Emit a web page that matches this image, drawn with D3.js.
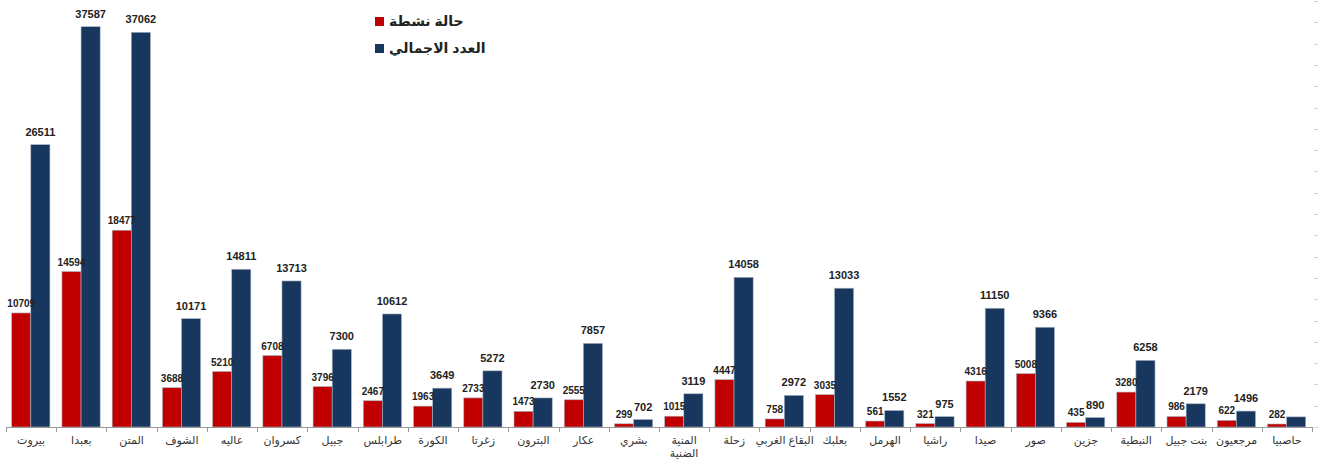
<!DOCTYPE html>
<html>
<head>
<meta charset="utf-8">
<script src="https://cdn.jsdelivr.net/npm/d3@7"></script>
<style>
  body { margin: 0; background: #fff; }
  svg { display: block; font-family: "Liberation Sans", "DejaVu Sans", sans-serif; }
</style>
</head>
<body>
<div id="chart"></div>
<script>
// Districts, left to right as in the picture
const districts = ["بيروت", "بعبدا", "المتن", "الشوف", "عاليه", "كسروان", "جبيل", "طرابلس", "الكورة", "زغرتا",
    "البترون", "عكار", "بشري", "المنية الضنية", "زحلة", "البقاع الغربي", "بعلبك", "الهرمل", "راشيا", "صيدا",
    "صور", "جزين", "النبطية", "بنت جبيل", "مرجعيون", "حاصبيا"];

const activeCases = [10709, 14594, 18477, 3688, 5210, 6708, 3796, 2467, 1963, 2733,
    1473, 2555, 299, 1015, 4447, 758, 3035, 561, 321, 4316,
    5008, 435, 3280, 986, 622, 282];

const totalCases = [26511, 37587, 37062, 10171, 14811, 13713, 7300, 10612, 3649, 5272,
    2730, 7857, 702, 3119, 14058, 2972, 13033, 1552, 975, 11150,
    9366, 890, 6258, 2179, 1496, 950];

// the last total has no label in the original
const totalLabelShown = districts.map((d, i) => i !== districts.length - 1);

const seriesNames = ["حالة نشطة", "العدد الاجمالي"];
const seriesColors = ["#c00000", "#17375e"];
const yTicks = d3.range(0, 40001, 2000);

const width = 1319, height = 461;
const margin = { top: 1, right: 7, bottom: 34, left: 6 };
const innerW = width - margin.left - margin.right;
const innerH = height - margin.top - margin.bottom;

const svg = d3.select("#chart").append("svg")
    .attr("width", width).attr("height", height);

const g = svg.append("g")
    .attr("transform", `translate(${margin.left},${margin.top})`);

const x = d3.scaleBand().domain(districts).range([0, innerW]).paddingInner(0).paddingOuter(0);
const xSub = d3.scaleBand().domain([0, 1]).range([5.7, x.bandwidth() - 6.3]).padding(0);
const y = d3.scaleLinear().domain([0, 40000]).range([innerH, 0]);

// faint value ticks on the right edge (no labels)
g.append("g")
    .selectAll("line")
    .data(yTicks)
    .join("line")
    .attr("x1", innerW + 2).attr("x2", innerW + 6)
    .attr("y1", d => Math.round(y(d)) + 0.5).attr("y2", d => Math.round(y(d)) + 0.5)
    .attr("stroke", "#d0d0d0");

const rows = districts.map((d, i) => ({ name: d, vals: [activeCases[i], totalCases[i]], i }));

const groups = g.selectAll(".grp")
    .data(rows)
    .join("g")
    .attr("class", "grp")
    .attr("transform", d => `translate(${x(d.name)},0)`);

groups.selectAll("rect")
    .data(d => d.vals.map((v, k) => ({ v, k })))
    .join("rect")
    .attr("x", d => xSub(d.k))
    .attr("y", d => y(d.v))
    .attr("width", xSub.bandwidth())
    .attr("height", d => innerH - y(d.v))
    .attr("fill", d => seriesColors[d.k])
    .attr("stroke", "#a9b4c2")
    .attr("stroke-width", 0.6);

// value labels
groups.selectAll("text.val")
    .data(d => d.vals.map((v, k) => ({ v, k, show: k === 0 || totalLabelShown[d.i] })).filter(e => e.show))
    .join("text")
    .attr("class", "val")
    .attr("x", d => xSub(d.k) + xSub.bandwidth() / 2)
    .attr("y", d => y(d.v) - (d.k === 0 ? 6 : 9))
    .attr("text-anchor", "middle")
    .attr("font-size", d => d.k === 0 ? 10 : 11)
    .attr("font-weight", "bold")
    .attr("fill", "#222")
    .text(d => d.v);

// x axis
const xAxis = g.append("g")
    .attr("transform", `translate(0,${innerH})`)
    .call(d3.axisBottom(x).tickSize(0).tickFormat(""));
xAxis.select(".domain").attr("stroke", "#9a9a9a");

g.append("g")
    .selectAll("line")
    .data(d3.range(districts.length + 1))
    .join("line")
    .attr("x1", i => Math.round(i * x.step()) + 0.5)
    .attr("x2", i => Math.round(i * x.step()) + 0.5)
    .attr("y1", innerH).attr("y2", innerH + 5)
    .attr("stroke", "#9a9a9a");

// category names, long ones broken into two lines
const cat = g.append("g").selectAll("text")
    .data(districts)
    .join("text")
    .attr("x", d => x(d) + x.bandwidth() / 2)
    .attr("y", innerH + 17)
    .attr("text-anchor", "middle")
    .attr("font-size", 11)
    .attr("fill", "#333");

cat.each(function(d) {
    const t = d3.select(this);
    if (d === "المنية الضنية") {
        const parts = d.split(" ");
        parts.forEach((p, j) => {
            t.append("tspan").attr("x", x(d) + x.bandwidth() / 2).attr("dy", j === 0 ? 0 : 13).text(p);
        });
    } else {
        t.text(d);
    }
});

// legend
const legend = svg.append("g").attr("transform", "translate(375,17)");
seriesNames.forEach((name, k) => {
    const row = legend.append("g").attr("transform", `translate(0,${k * 27})`);
    row.append("rect").attr("width", 9).attr("height", 9).attr("fill", seriesColors[k]);
    row.append("text")
        .attr("x", 14).attr("y", 9)
        .attr("font-size", 14).attr("font-weight", "bold")
        .attr("fill", "#222")
        .text(name);
});
</script>
</body>
</html>
